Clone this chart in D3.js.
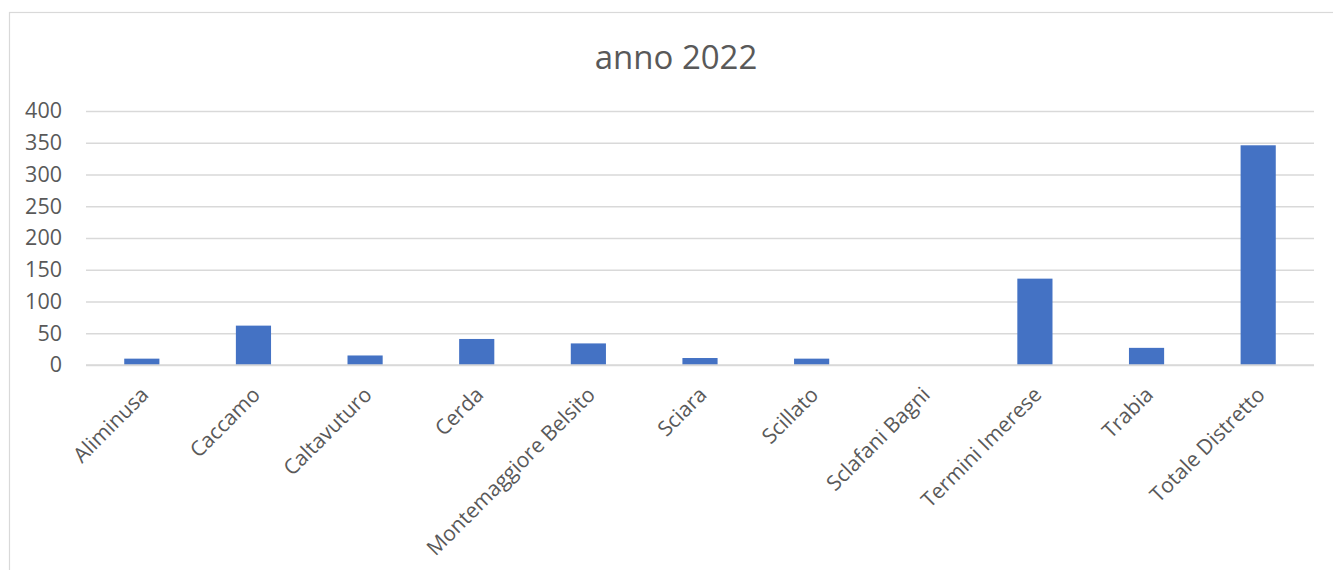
<!DOCTYPE html>
<html>
<head>
<meta charset="utf-8">
<script src="https://cdn.jsdelivr.net/npm/d3@7"></script>
<style>
  body { margin: 0; background: #fff; }
  svg { display: block; font-family: "Open Sans", sans-serif; }
</style>
</head>
<body>
<svg></svg>
<script>
const categories = ["Aliminusa", "Caccamo", "Caltavuturo", "Cerda", "Montemaggiore Belsito",
  "Sciara", "Scillato", "Sclafani Bagni", "Termini Imerese", "Trabia", "Totale Distretto"];
const values = [10, 62, 15, 41, 34, 11, 10, 0, 136, 27, 346];
const yTicks = [0, 50, 100, 150, 200, 250, 300, 350, 400];
const title = "anno 2022";

const W = 1333, H = 570;
const margin = {top: 111, right: 19, bottom: 205, left: 86};
const width = W - margin.left - margin.right;
const height = H - margin.top - margin.bottom;

const svg = d3.select("svg").attr("width", W).attr("height", H);

// chart frame
svg.append("rect")
    .attr("x", 9.5).attr("y", 12.5)
    .attr("width", W + 10).attr("height", H + 10)
    .attr("fill", "none").attr("stroke", "#d9d9d9").attr("stroke-width", 1.2);

svg.append("text")
    .attr("x", 676).attr("y", 69)
    .attr("text-anchor", "middle")
    .attr("font-size", 33).attr("fill", "#595959")
    .text(title);

const g = svg.append("g")
    .attr("transform", "translate(" + margin.left + "," + margin.top + ")");

const x = d3.scaleBand().domain(categories).range([0, width]).paddingInner(0.685).paddingOuter(0.3425);
const y = d3.scaleLinear().domain([0, 400]).range([height, 0]);

// gridlines + y labels
const yAxis = g.append("g")
    .call(d3.axisLeft(y).tickValues(yTicks).tickSize(-width).tickPadding(24));
yAxis.select(".domain").remove();
yAxis.selectAll(".tick line").attr("stroke", "#d9d9d9").attr("stroke-width", 1.4);
yAxis.selectAll(".tick text")
    .attr("font-size", 21.5).attr("fill", "#595959")
    .attr("font-family", "Open Sans, sans-serif");

g.selectAll("rect.bar")
    .data(values)
    .enter()
    .append("rect")
    .attr("class", "bar")
    .attr("x", (d, i) => x(categories[i]))
    .attr("y", d => y(d))
    .attr("width", x.bandwidth())
    .attr("height", d => height - y(d))
    .attr("fill", "#4472c4");

// category axis line
g.append("line")
    .attr("x1", 0).attr("x2", width)
    .attr("y1", height).attr("y2", height)
    .attr("stroke", "#d9d9d9").attr("stroke-width", 1.4);

g.selectAll("text.cat")
    .data(categories)
    .enter()
    .append("text")
    .attr("class", "cat")
    .attr("transform", d => "translate(" + (x(d) + x.bandwidth() / 2 + 8) + "," + (height + 31) + ") rotate(-45)")
    .attr("text-anchor", "end")
    .attr("font-size", 21).attr("fill", "#595959")
    .text(d => d);
</script>
</body>
</html>
